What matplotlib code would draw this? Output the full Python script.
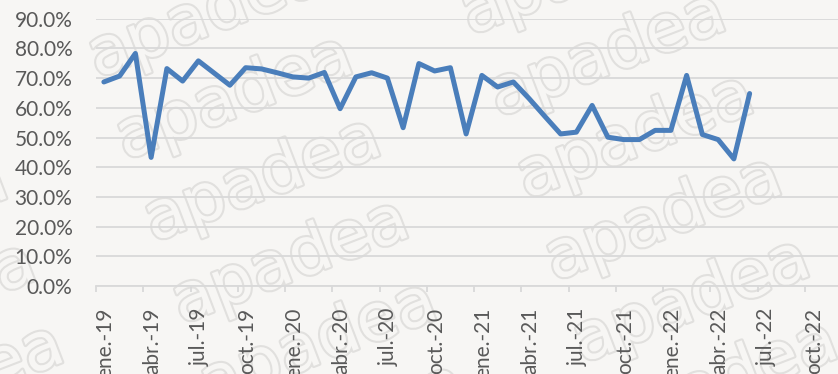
import matplotlib
matplotlib.use("Agg")
import matplotlib.pyplot as plt
import matplotlib.patheffects as pe
from matplotlib.ticker import FuncFormatter, FixedLocator, NullFormatter

# Monthly share (%), ene.-19 .. jun.-22
months = [
    "ene.-19", "feb.-19", "mar.-19", "abr.-19", "may.-19", "jun.-19",
    "jul.-19", "ago.-19", "sep.-19", "oct.-19", "nov.-19", "dic.-19",
    "ene.-20", "feb.-20", "mar.-20", "abr.-20", "may.-20", "jun.-20",
    "jul.-20", "ago.-20", "sep.-20", "oct.-20", "nov.-20", "dic.-20",
    "ene.-21", "feb.-21", "mar.-21", "abr.-21", "may.-21", "jun.-21",
    "jul.-21", "ago.-21", "sep.-21", "oct.-21", "nov.-21", "dic.-21",
    "ene.-22", "feb.-22", "mar.-22", "abr.-22", "may.-22", "jun.-22",
]
values = [
    68.7, 70.7, 78.3, 43.3, 73.2, 69.0, 75.8, 71.7, 67.6, 73.5, 73.1, 71.8,
    70.4, 70.0, 71.9, 59.7, 70.4, 71.8, 70.0, 53.3, 74.9, 72.4, 73.5, 51.2,
    70.9, 67.0, 68.7, 63.1, 57.1, 51.2, 51.8, 60.8, 50.1, 49.3, 49.3, 52.4,
    52.4, 70.9, 51.0, 49.3, 42.8, 64.8,
]
tick_labels = [
    "ene.-19", "abr.-19", "jul.-19", "oct.-19",
    "ene.-20", "abr.-20", "jul.-20", "oct.-20",
    "ene.-21", "abr.-21", "jul.-21", "oct.-21",
    "ene.-22", "abr.-22", "jul.-22", "oct.-22",
]
y_ticks = [0, 10, 20, 30, 40, 50, 60, 70, 80, 90]

BG = "#f7f6f4"
TEXT = "#595959"
GRID = "#d9d9d9"
LINE = "#4a7ebb"
WM = "#e1e0de"

plt.rcParams["font.family"] = ["Lato", "DejaVu Sans"]

W, H = 838, 374
fig = plt.figure(figsize=(W / 100, H / 100), dpi=100, facecolor=BG)
ax = fig.add_axes([96 / W, 1 - 286 / H, 1 - 96 / W, (286 - 18.7) / H])
ax.set_facecolor("none")

# faint outlined watermark tiled behind the plot
ux, uy = 345, -125   # step along a row
vx, vy = 28, 82      # step between rows
ox, oy = 262, 180
for i in range(-4, 5):
    for j in range(-5, 6):
        cx = ox + i * ux + j * vx
        cy = oy + i * uy + j * vy
        if -180 < cx < W + 180 and -80 < cy < H + 80:
            fig.text(cx / W, 1 - cy / H, "apadea", fontsize=48, rotation=21,
                     family="DejaVu Sans", ha="center", va="center",
                     color=BG, zorder=-5, clip_on=False,
                     path_effects=[pe.withStroke(linewidth=3.0, foreground=WM)])

x = list(range(len(values)))
ax.plot(x, values, color=LINE, lw=3.6, solid_joinstyle="round",
        solid_capstyle="round", zorder=3)

ax.set_ylim(0, 90)
ax.set_yticks(y_ticks)
ax.yaxis.set_major_formatter(FuncFormatter(lambda v, p: f"{v:.1f}%"))
ax.grid(axis="y", color=GRID, lw=1.3, zorder=0)
ax.set_axisbelow(True)

ax.set_xlim(-0.5, (W - 96) / 15.75 - 0.5)
# tick marks sit on month boundaries, labels sit just right of them
bounds = [3 * k - 0.5 for k in range(len(tick_labels))]
label_pos = [b + 0.57 for b in bounds]
ax.set_xticks(label_pos)
ax.set_xticklabels(tick_labels, rotation=90, va="top", ha="center")
ax.xaxis.set_minor_locator(FixedLocator(bounds))
ax.xaxis.set_minor_formatter(NullFormatter())

for s in ["top", "right", "left"]:
    ax.spines[s].set_visible(False)
ax.spines["bottom"].set_color(GRID)
ax.spines["bottom"].set_linewidth(1.3)

ax.tick_params(axis="y", length=0, pad=17, labelsize=15, labelcolor=TEXT)
ax.tick_params(axis="x", which="major", length=0, pad=15.5,
               labelsize=15, labelcolor=TEXT)
ax.tick_params(axis="x", which="minor", length=4.5, width=1.3, color=GRID)

fig.savefig("out.png", dpi=100, facecolor=BG)
